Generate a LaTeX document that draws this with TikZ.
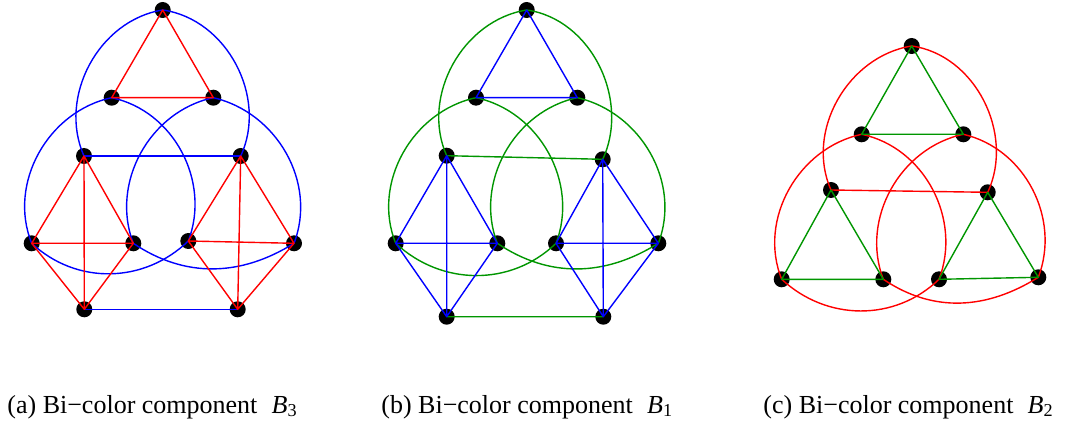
\documentclass[tikz,border=0pt]{standalone}
\usepackage{fontspec}
\setmainfont{Liberation Serif}
\definecolor{bcred}{RGB}{255,0,0}
\definecolor{bcblue}{RGB}{0,0,255}
\definecolor{bcgreen}{RGB}{0,150,0}
\tikzset{
  vertex/.style={
    circle,
    fill=black,
    inner sep=0pt,
    minimum size=8pt
  },
  link/.style={
    line width=.7pt,
    line join=round
  },
  red link/.style={link,draw=bcred},
  blue link/.style={link,draw=bcblue},
  green link/.style={link,draw=bcgreen},
  caption/.style={
    font=\fontsize{13}{15}\selectfont,
    anchor=base west,
    inner sep=0pt
  }
}

\begin{document}
\begin{tikzpicture}[x=.5pt,y=.5pt]
  \path[use as bounding box,fill=white] (0,0) rectangle (1070,-422);

  % (a) component B3
  \begin{scope}[name prefix=a-]
    \node[vertex] (T)  at (162.7,-10)    {};
    \node[vertex] (UL) at (111.7,-97.7)  {};
    \node[vertex] (UR) at (213.3,-97.7)  {};
    \node[vertex] (ML) at (84,-156)      {};
    \node[vertex] (MR) at (240.7,-156)   {};
    \node[vertex] (LL) at (31.7,-243.3)  {};
    \node[vertex] (LI) at (133.3,-243.3) {};
    \node[vertex] (RI) at (188.3,-241)   {};
    \node[vertex] (RR) at (294,-243.3)   {};
    \node[vertex] (BL) at (84.3,-309.3)  {};
    \node[vertex] (BR) at (237.7,-309.3) {};

    \draw[blue link] (ML.center) -- (MR.center) (BL.center) -- (BR.center);
    \draw[blue link] (T.center) to[out=189,in=114] (ML.center)
                     (T.center) to[out=-8,in=65] (MR.center);
    \draw[blue link] (UL.center) to[out=-12,in=69] (RI.center)
                     to[out=224,in=-43] (LL.center)
                     to[out=112,in=192] (UL.center);
    \draw[blue link] (UR.center) to[out=-13,in=69] (RR.center)
                     to[out=212,in=-34] (LI.center)
                     to[out=111,in=192] (UR.center);

    \draw[red link] (T.center) -- (UL.center) -- (UR.center) -- cycle;
    \draw[red link] (ML.center) -- (LL.center) -- (BL.center) -- (LI.center) -- cycle
                    (ML.center) -- (BL.center) (LL.center) -- (LI.center);
    \draw[red link] (MR.center) -- (RI.center) -- (BR.center) -- (RR.center) -- cycle
                    (MR.center) -- (BR.center) (RI.center) -- (RR.center);
  \end{scope}

  % (b) component B1
  \begin{scope}[name prefix=b-]
    \node[vertex] (T)  at (526.7,-10)    {};
    \node[vertex] (UL) at (476,-97.7)    {};
    \node[vertex] (UR) at (577.3,-97.7)  {};
    \node[vertex] (ML) at (446.7,-155.7) {};
    \node[vertex] (MR) at (602.7,-159.3) {};
    \node[vertex] (LL) at (395.7,-243.3) {};
    \node[vertex] (LI) at (497.3,-243.3) {};
    \node[vertex] (RI) at (556,-243.3)   {};
    \node[vertex] (RR) at (658.3,-243.3) {};
    \node[vertex] (BL) at (446.7,-316.7) {};
    \node[vertex] (BR) at (603.3,-316.7) {};

    \draw[green link] (ML.center) -- (MR.center) (BL.center) -- (BR.center);
    \draw[green link] (T.center) to[out=189,in=114] (ML.center)
                      (T.center) to[out=-8,in=65] (MR.center);
    \draw[green link] (UL.center) to[out=-12,in=69] (RI.center)
                      to[out=224,in=-43] (LL.center)
                      to[out=112,in=192] (UL.center);
    \draw[green link] (UR.center) to[out=-13,in=69] (RR.center)
                      to[out=212,in=-34] (LI.center)
                      to[out=111,in=192] (UR.center);

    \draw[blue link] (T.center) -- (UL.center) -- (UR.center) -- cycle;
    \draw[blue link] (ML.center) -- (LL.center) -- (BL.center) -- (LI.center) -- cycle
                     (ML.center) -- (BL.center) (LL.center) -- (LI.center);
    \draw[blue link] (MR.center) -- (RI.center) -- (BR.center) -- (RR.center) -- cycle
                     (MR.center) -- (BR.center) (RI.center) -- (RR.center);
  \end{scope}

  % (c) component B2
  \begin{scope}[name prefix=c-]
    \node[vertex] (T)  at (911.7,-46)     {};
    \node[vertex] (UL) at (861.7,-134.3)  {};
    \node[vertex] (UR) at (963.3,-134.3)  {};
    \node[vertex] (ML) at (831,-190)      {};
    \node[vertex] (MR) at (987.7,-192.3)  {};
    \node[vertex] (LL) at (781.7,-279.3)  {};
    \node[vertex] (LI) at (883.3,-279.3)  {};
    \node[vertex] (RI) at (939,-279.3)    {};
    \node[vertex] (RR) at (1038.3,-277.3) {};

    \draw[red link] (ML.center) -- (MR.center);
    \draw[red link] (T.center) to[out=189,in=114] (ML.center)
                    (T.center) to[out=-8,in=65] (MR.center);
    \draw[red link] (UL.center) to[out=-12,in=69] (RI.center)
                    to[out=224,in=-43] (LL.center)
                    to[out=112,in=192] (UL.center);
    \draw[red link] (UR.center) to[out=-13,in=69] (RR.center)
                    to[out=212,in=-34] (LI.center)
                    to[out=111,in=192] (UR.center);

    \draw[green link] (T.center) -- (UL.center) -- (UR.center) -- cycle;
    \draw[green link] (ML.center) -- (LL.center) -- (LI.center) -- cycle;
    \draw[green link] (MR.center) -- (RI.center) -- (RR.center) -- cycle;
  \end{scope}

  % captions
  \node[caption] (capA) at (7,-413)   {(a) Bi−color component\hspace{.55em}\textit{B}\textsubscript{3}};
  \node[caption] (capB) at (381,-413) {(b) Bi−color component\hspace{.55em}\textit{B}\textsubscript{1}};
  \node[caption] (capC) at (763,-413) {(c) Bi−color component\hspace{.55em}\textit{B}\textsubscript{2}};
\end{tikzpicture}
\end{document}
